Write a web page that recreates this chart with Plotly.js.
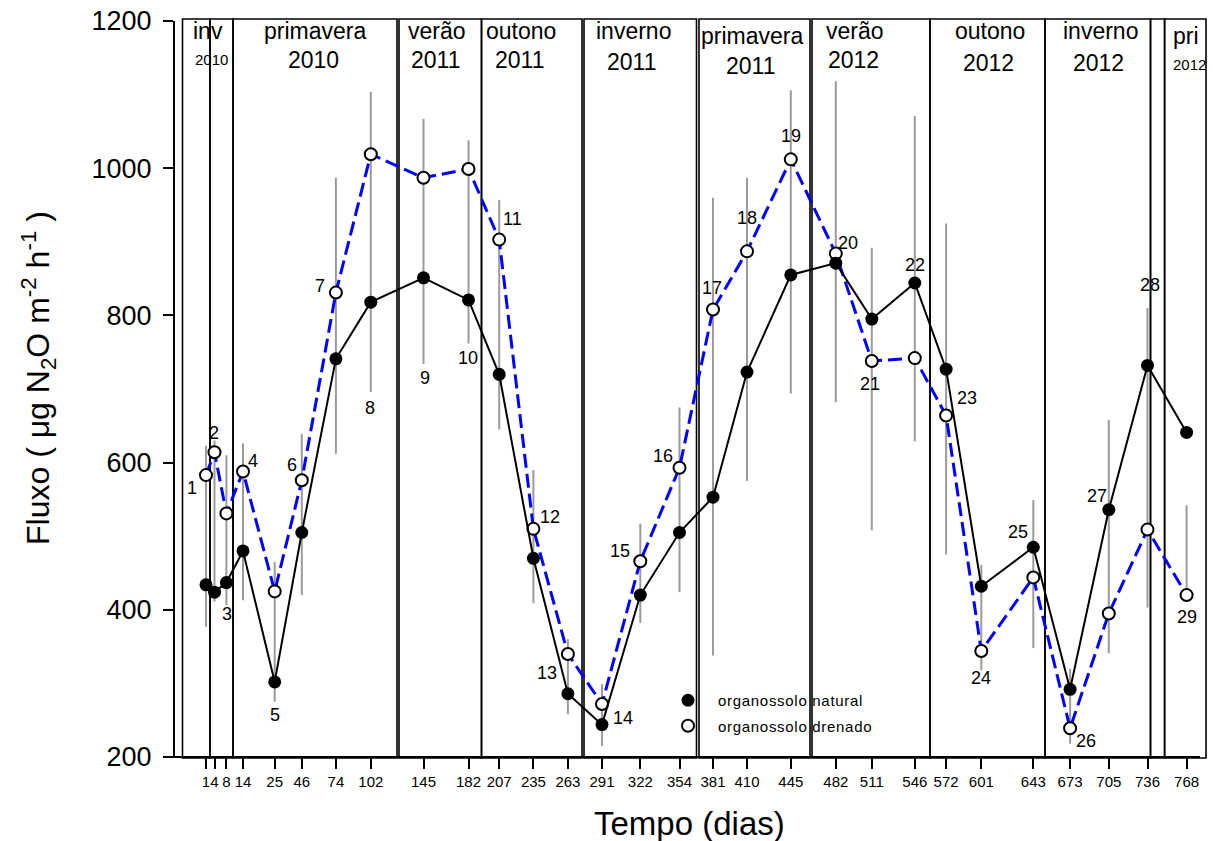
<!DOCTYPE html>
<html>
<head>
<meta charset="utf-8">
<script src="https://cdn.plot.ly/plotly-3.0.1.min.js"></script>
<style>html,body{margin:0;padding:0;background:#fff;}#chart{width:1213px;height:841px;}
.legendtext{letter-spacing:0.7px;}</style>
</head>
<body>
<div id="chart"></div>
<script>
// ---------- DATA ----------
// sampling day labels shown under the axis
const days = [1, 4, 8, 14, 25, 46, 74, 102, 145, 182, 207, 235, 263, 291, 322, 354, 381, 410, 445, 482, 511, 546, 572, 601, 643, 673, 705, 736, 768];
// position of each sampling along the (irregular) time axis of the original chart
const xPos = [31, 39.5, 51.4, 68, 99.7, 126.8, 160.9, 195.8, 248.5, 293.5, 324.2, 358.4, 392.9, 427, 465.3, 504.5, 538, 572, 615.8, 660.8, 696.8, 739.8, 771.1, 806.3, 858.3, 895.1, 933.8, 972.5, 1011.6];
// point numbers
const pointNo = [1,2,3,4,5,6,7,8,9,10,11,12,13,14,15,16,17,18,19,20,21,22,23,24,25,26,27,28,29];
// N2O flux, organossolo natural (filled)
const natural = [434, 424, 437, 480, 302, 505, 741, 818, 851, 821, 720, 470, 286, 244, 420, 505, 553, 723, 855, 871, 795, 844, 727, 432, 485, 292, 536, 732, 641];
// N2O flux, organossolo drenado (open)
const drenado = [583, 614, 531, 588, 425, 576, 831, 1019, 987, 999, 903, 510, 340, 272, 466, 593, 808, 887, 1012, 884, 738, 742, 664, 344, 444, 239, 395, 509, 420];
// grey variability bars (low / high)
const barLow  = [377, 411, 406, 413, 275, 420, 612, 696, 734, 762, 645, 409, 258, 215, 382, 424, 338, 575, 694, 682, 508, 629, 475, 318, 348, 218, 341, 403, 425];
const barHigh = [623, 630, 610, 626, 465, 639, 987, 1104, 1067, 1038, 957, 590, 360, 299, 517, 675, 960, 987, 1106, 1118, 892, 1071, 925, 461, 549, 320, 658, 810, 542];
// seasons (start / end along the time axis)
const seasonStart = [7.5, 35, 58, 224, 306.5, 409, 524, 637, 755, 870, 975.5, 989.6];
const seasonEnd   = [35, 58, 222, 306.5, 407, 521.5, 635, 755, 870, 975.5, 989.6, 1031];
const seasonName  = ["inv", "", "primavera", "verão", "outono", "inverno", "primavera", "verão", "outono", "inverno", "", "pri"];
const seasonYear  = ["2010", "", "2010", "2011", "2011", "2011", "2011", "2012", "2012", "2012", "", "2012"];
const seriesNames = ["organossolo natural", "organossolo drenado"];

// ---------- LAYOUT HELPERS (styling / placement only) ----------
const FONT = "Liberation Sans, Arial, Helvetica, sans-serif";
const plotTop = 21, plotBottom = 757, plotH = plotBottom - plotTop;
const py = p => (plotBottom - p) / plotH;             // pixel row -> paper y
// label placement for season names: [x position, name row px, year row px, small]
const seasonLabelPos = [
  [33, 31, 60, true], null, [140, 31, 60], [262, 31, 60], [346, 31, 60], [458, 31, 62],
  [577, 36, 66], [680, 31, 60], [815, 31, 63], [925, 31, 63], null, [1011, 36, 64, true]
];
// point-number placement: [series, dx px, dy px (down)]
const labelSpec = [
  ['d',-14,13],['d',-1,-19],['n',1,31],['d',10,-10],['n',0,33],['d',-10,-15],['d',-16,-7],
  ['n',-1,106],['n',1,100],['n',-1,58],['d',13,-21],['d',17,-12],['n',-21,-21],['n',21,-7],
  ['d',-20,-10],['d',-17,-12],['d',-1,-22],['d',0,-33],['d',0,-23],['d',12,-11],['d',-2,23],
  ['n',0,-18],['n',21,29],['d',0,27],['n',-15,-15],['d',16,13],['n',-12,-14],['n',2,-80],['d',0,22]
];

// ---------- TRACES ----------
const bars = {
  x: xPos, y: barLow, type: 'scatter', mode: 'markers',
  marker: {size: 0.1, color: 'rgba(0,0,0,0)'},
  error_y: {type: 'data', symmetric: false,
            array: barHigh.map((h, i) => h - barLow[i]),
            arrayminus: barLow.map(() => 0),
            color: '#9b9b9b', thickness: 2, width: 0},
  showlegend: false, hoverinfo: 'skip', cliponaxis: false
};
const tDren = {
  x: xPos, y: drenado, type: 'scatter', mode: 'lines+markers', name: seriesNames[1],
  line: {color: '#0000ff', width: 3, dash: '14px,6px'},
  marker: {symbol: 'circle', size: 12, color: '#ffffff', line: {color: '#000000', width: 2}},
  showlegend: false, cliponaxis: false
};
const tNat = {
  x: xPos, y: natural, type: 'scatter', mode: 'lines+markers', name: seriesNames[0],
  line: {color: '#000000', width: 2},
  marker: {symbol: 'circle', size: 13, color: '#000000'},
  showlegend: false, cliponaxis: false
};
const legNat = {x: [null], y: [null], type: 'scatter', mode: 'markers', name: seriesNames[0],
  marker: {symbol: 'circle', size: 13, color: '#000000'}, legendgroup: 'a'};
const legDren = {x: [null], y: [null], type: 'scatter', mode: 'markers', name: seriesNames[1],
  marker: {symbol: 'circle', size: 12, color: '#ffffff', line: {color: '#000000', width: 2}}, legendgroup: 'b'};

// ---------- SHAPES ----------
const shapes = [];
for (let i = 0; i < seasonStart.length; i++) {
  shapes.push({type: 'rect', xref: 'x', yref: 'paper', x0: seasonStart[i], x1: seasonEnd[i],
    y0: py(758), y1: py(19), line: {color: '#000', width: 1.6}, fillcolor: 'rgba(0,0,0,0)', layer: 'below'});
}
// detached x axis line
const xRange = [0, 1035];
shapes.push({type: 'line', xref: 'paper', yref: 'paper', x0: -12 / 1035, x1: 1025 / 1035, y0: 0, y1: 0,
  line: {color: '#000', width: 2}});

// ---------- ANNOTATIONS ----------
const annotations = [];
seasonName.forEach((nm, i) => {
  const p = seasonLabelPos[i];
  if (!p) return;
  annotations.push({xref: 'x', yref: 'paper', x: p[0], y: py(p[1]), text: nm, showarrow: false,
    xanchor: 'center', yanchor: 'middle', font: {family: FONT, size: 23, color: '#000'}});
  annotations.push({xref: 'x', yref: 'paper', x: p[0] + (p[3] ? 3 : -2), y: py(p[2]), text: seasonYear[i], showarrow: false,
    xanchor: 'center', yanchor: 'middle', font: {family: FONT, size: p[3] ? 15 : 23, color: '#000'}});
});
pointNo.forEach((n, i) => {
  const s = labelSpec[i];
  annotations.push({xref: 'x', yref: 'y', x: xPos[i], y: s[0] === 'n' ? natural[i] : drenado[i],
    xshift: s[1], yshift: -s[2], text: String(n), showarrow: false,
    xanchor: 'center', yanchor: 'middle', font: {family: FONT, size: 18, color: '#000'}});
});
// axis titles
annotations.push({xref: 'paper', yref: 'paper', x: (689 - 175) / 1035, y: py(823), text: 'Tempo (dias)',
  showarrow: false, xanchor: 'center', yanchor: 'middle', font: {family: FONT, size: 33, color: '#000'}});
annotations.push({xref: 'paper', yref: 'paper', x: (38 - 175) / 1035, y: py(378),
  text: 'Fluxo ( μg N<sub>2</sub>O m<sup>-2</sup> h<sup>-1</sup> )', textangle: -90,
  showarrow: false, xanchor: 'center', yanchor: 'middle', font: {family: FONT, size: 32, color: '#000'}});

const layout = {
  width: 1213, height: 841,
  margin: {l: 175, r: 3, t: plotTop, b: 841 - plotBottom, pad: 0},
  paper_bgcolor: '#fff', plot_bgcolor: 'rgba(0,0,0,0)',
  font: {family: FONT, color: '#000'},
  showlegend: true,
  legend: {x: (658 - 175) / 1035, y: py(684), xanchor: 'left', yanchor: 'top',
    bgcolor: 'rgba(0,0,0,0)', borderwidth: 0, tracegroupgap: 3, itemwidth: 50,
    font: {family: FONT, size: 15, color: '#000'}},
  xaxis: {range: xRange, showgrid: false, zeroline: false, showline: false,
    tickmode: 'array', tickvals: xPos, ticktext: days.map(String), tickangle: 0,
    ticks: 'outside', ticklen: 11, tickwidth: 2, tickcolor: '#000',
    tickfont: {family: FONT, size: 15, color: '#000'}, fixedrange: true},
  yaxis: {range: [200, 1200], showgrid: false, zeroline: false, showline: true, linewidth: 2, linecolor: '#000',
    tickmode: 'array', tickvals: [200, 400, 600, 800, 1000, 1200], ticklabelstandoff: 6,
    ticks: 'outside', ticklen: 10, tickwidth: 2, tickcolor: '#000',
    tickfont: {family: FONT, size: 27, color: '#000'}, fixedrange: true},
  shapes: shapes,
  annotations: annotations
};

Plotly.newPlot('chart', [bars, tDren, tNat, legNat, legDren], layout, {staticPlot: true, displayModeBar: false});
</script>
</body>
</html>
